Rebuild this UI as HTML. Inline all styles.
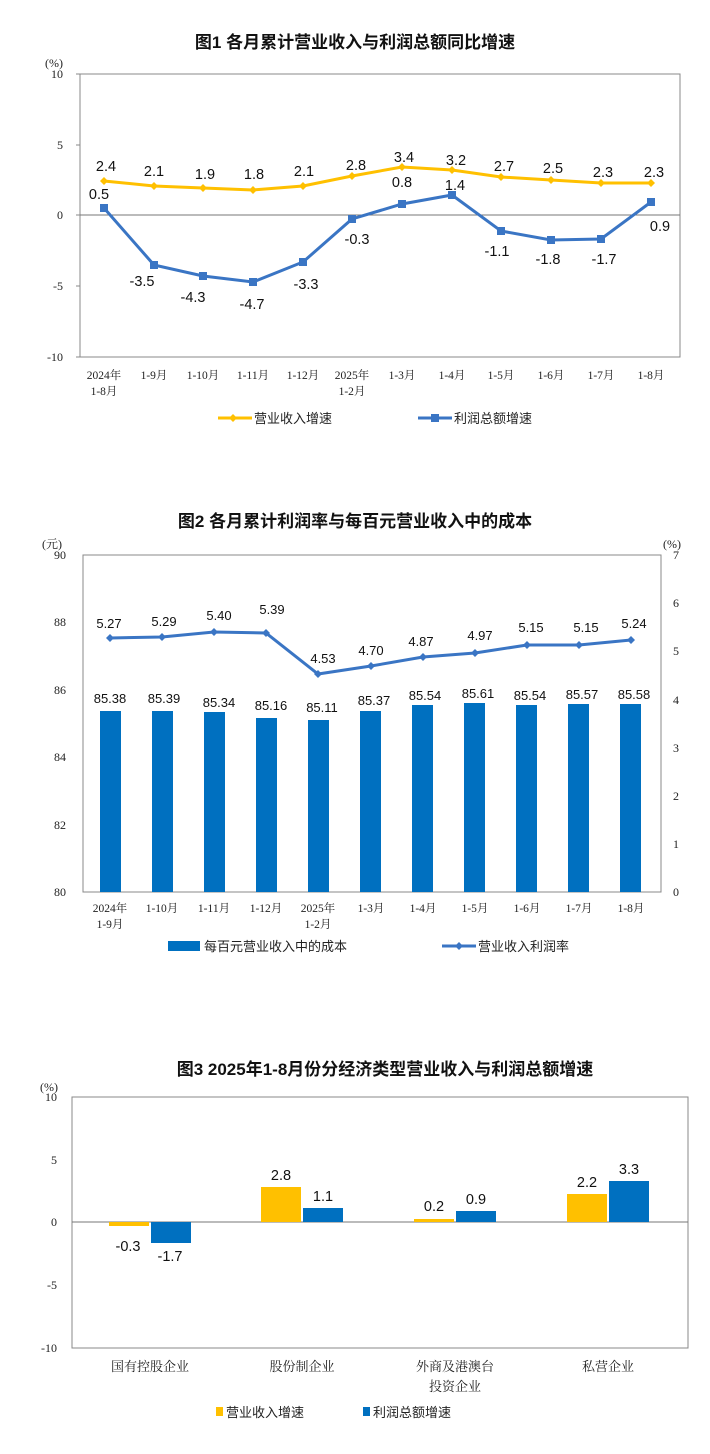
<!DOCTYPE html>
<html><head><meta charset="utf-8"><style>
html,body{margin:0;padding:0;background:#fff;}
svg{display:block;font-family:"Liberation Sans","Noto Sans CJK SC",sans-serif;}
.t{font-size:17px;font-weight:bold;fill:#111;}
.ax{font-size:12px;fill:#222;font-family:"Liberation Serif","Noto Serif CJK SC",serif;}
.cx{font-size:11.5px;fill:#222;font-family:"Liberation Serif","Noto Serif CJK SC",serif;}
.v{font-size:14.5px;fill:#111;}
.v2{font-size:13px;fill:#111;}
.lg{font-size:13px;fill:#222;}
</style></head><body>
<svg width="710" height="1454" viewBox="0 0 710 1454">
<!-- Chart 1 -->
<text class="t" x="355" y="48" text-anchor="middle">图1  各月累计营业收入与利润总额同比增速</text>
<text class="ax" x="45" y="67">(%)</text>
<rect x="80" y="74" width="600" height="283" fill="none" stroke="#888" stroke-width="1"/>
<line x1="80" y1="215" x2="680" y2="215" stroke="#777" stroke-width="1"/>
<g class="ax" text-anchor="end">
<text x="63" y="78">10</text><text x="63" y="149">5</text><text x="63" y="219">0</text><text x="63" y="290">-5</text><text x="63" y="361">-10</text>
</g>
<g stroke="#888"><line x1="76" y1="74" x2="80" y2="74"/><line x1="76" y1="145" x2="80" y2="145"/><line x1="76" y1="215" x2="80" y2="215"/><line x1="76" y1="286" x2="80" y2="286"/><line x1="76" y1="357" x2="80" y2="357"/></g>
<polyline fill="none" stroke="#FFC000" stroke-width="3" points="104,181 154,186 203,188 253,190 303,186 352,176 402,167 452,170 501,177 551,180 601,183 651,183"/>
<g fill="#FFC000">
<path d="M104,177l4,4l-4,4l-4,-4z"/><path d="M154,182l4,4l-4,4l-4,-4z"/><path d="M203,184l4,4l-4,4l-4,-4z"/><path d="M253,186l4,4l-4,4l-4,-4z"/><path d="M303,182l4,4l-4,4l-4,-4z"/><path d="M352,172l4,4l-4,4l-4,-4z"/><path d="M402,163l4,4l-4,4l-4,-4z"/><path d="M452,166l4,4l-4,4l-4,-4z"/><path d="M501,173l4,4l-4,4l-4,-4z"/><path d="M551,176l4,4l-4,4l-4,-4z"/><path d="M601,179l4,4l-4,4l-4,-4z"/><path d="M651,179l4,4l-4,4l-4,-4z"/>
</g>
<polyline fill="none" stroke="#3A75C4" stroke-width="3" points="104,208 154,265 203,276 253,282 303,262 352,219 402,204 452,195 501,231 551,240 601,239 651,202"/>
<g fill="#3A75C4">
<rect x="100" y="204" width="8" height="8"/><rect x="150" y="261" width="8" height="8"/><rect x="199" y="272" width="8" height="8"/><rect x="249" y="278" width="8" height="8"/><rect x="299" y="258" width="8" height="8"/><rect x="348" y="215" width="8" height="8"/><rect x="398" y="200" width="8" height="8"/><rect x="448" y="191" width="8" height="8"/><rect x="497" y="227" width="8" height="8"/><rect x="547" y="236" width="8" height="8"/><rect x="597" y="235" width="8" height="8"/><rect x="647" y="198" width="8" height="8"/>
</g>
<g class="v" text-anchor="middle">
<text x="106" y="171">2.4</text><text x="154" y="176">2.1</text><text x="205" y="179">1.9</text><text x="254" y="179">1.8</text><text x="304" y="176">2.1</text><text x="356" y="170">2.8</text><text x="404" y="162">3.4</text><text x="456" y="165">3.2</text><text x="504" y="171">2.7</text><text x="553" y="173">2.5</text><text x="603" y="177">2.3</text><text x="654" y="177">2.3</text>
<text x="99" y="199">0.5</text><text x="142" y="286">-3.5</text><text x="193" y="302">-4.3</text><text x="252" y="309">-4.7</text><text x="306" y="289">-3.3</text><text x="357" y="244">-0.3</text><text x="402" y="187">0.8</text><text x="455" y="190">1.4</text><text x="497" y="256">-1.1</text><text x="548" y="264">-1.8</text><text x="604" y="264">-1.7</text><text x="660" y="231">0.9</text>
</g>
<g class="cx" text-anchor="middle">
<text x="104" y="379">2024年</text><text x="104" y="395">1-8月</text><text x="154" y="379">1-9月</text><text x="203" y="379">1-10月</text><text x="253" y="379">1-11月</text><text x="303" y="379">1-12月</text><text x="352" y="379">2025年</text><text x="352" y="395">1-2月</text><text x="402" y="379">1-3月</text><text x="452" y="379">1-4月</text><text x="501" y="379">1-5月</text><text x="551" y="379">1-6月</text><text x="601" y="379">1-7月</text><text x="651" y="379">1-8月</text>
</g>
<line x1="218" y1="418" x2="252" y2="418" stroke="#FFC000" stroke-width="3"/><path d="M233,414l4,4l-4,4l-4,-4z" fill="#FFC000"/>
<text class="lg" x="254" y="423">营业收入增速</text>
<line x1="418" y1="418" x2="452" y2="418" stroke="#3A75C4" stroke-width="3"/><rect x="431" y="414" width="8" height="8" fill="#3A75C4"/>
<text class="lg" x="454" y="423">利润总额增速</text>

<!-- Chart 2 -->
<text class="t" x="355" y="527" text-anchor="middle">图2  各月累计利润率与每百元营业收入中的成本</text>
<text class="ax" x="42" y="548">(元)</text>
<text class="ax" x="663" y="548">(%)</text>
<rect x="83" y="555" width="578" height="337" fill="none" stroke="#888"/>
<g class="ax" text-anchor="end">
<text x="66" y="559">90</text><text x="66" y="626">88</text><text x="66" y="694">86</text><text x="66" y="761">84</text><text x="66" y="829">82</text><text x="66" y="896">80</text>
</g>
<g class="ax">
<text x="673" y="559">7</text><text x="673" y="607">6</text><text x="673" y="655">5</text><text x="673" y="704">4</text><text x="673" y="752">3</text><text x="673" y="800">2</text><text x="673" y="848">1</text><text x="673" y="896">0</text>
</g>
<g fill="#0070C0">
<rect x="100" y="711" width="21" height="181"/><rect x="152" y="711" width="21" height="181"/><rect x="204" y="712" width="21" height="180"/><rect x="256" y="718" width="21" height="174"/><rect x="308" y="720" width="21" height="172"/><rect x="360" y="711" width="21" height="181"/><rect x="412" y="705" width="21" height="187"/><rect x="464" y="703" width="21" height="189"/><rect x="516" y="705" width="21" height="187"/><rect x="568" y="704" width="21" height="188"/><rect x="620" y="704" width="21" height="188"/>
</g>
<g class="v2" text-anchor="middle">
<text x="110" y="703">85.38</text><text x="164" y="703">85.39</text><text x="219" y="707">85.34</text><text x="271" y="710">85.16</text><text x="322" y="712">85.11</text><text x="374" y="705">85.37</text><text x="425" y="700">85.54</text><text x="478" y="698">85.61</text><text x="530" y="700">85.54</text><text x="582" y="699">85.57</text><text x="634" y="699">85.58</text>
</g>
<polyline fill="none" stroke="#3A75C4" stroke-width="3" points="110,638 162,637 214,632 266,633 318,674 371,666 423,657 475,653 527,645 579,645 631,640"/>
<g fill="#3A75C4">
<path d="M110,634l4,4l-4,4l-4,-4z"/><path d="M162,633l4,4l-4,4l-4,-4z"/><path d="M214,628l4,4l-4,4l-4,-4z"/><path d="M266,629l4,4l-4,4l-4,-4z"/><path d="M318,670l4,4l-4,4l-4,-4z"/><path d="M371,662l4,4l-4,4l-4,-4z"/><path d="M423,653l4,4l-4,4l-4,-4z"/><path d="M475,649l4,4l-4,4l-4,-4z"/><path d="M527,641l4,4l-4,4l-4,-4z"/><path d="M579,641l4,4l-4,4l-4,-4z"/><path d="M631,636l4,4l-4,4l-4,-4z"/>
</g>
<g class="v2" text-anchor="middle">
<text x="109" y="628">5.27</text><text x="164" y="626">5.29</text><text x="219" y="620">5.40</text><text x="272" y="614">5.39</text><text x="323" y="663">4.53</text><text x="371" y="655">4.70</text><text x="421" y="646">4.87</text><text x="480" y="640">4.97</text><text x="531" y="632">5.15</text><text x="586" y="632">5.15</text><text x="634" y="628">5.24</text>
</g>
<g class="cx" text-anchor="middle">
<text x="110" y="912">2024年</text><text x="110" y="928">1-9月</text><text x="162" y="912">1-10月</text><text x="214" y="912">1-11月</text><text x="266" y="912">1-12月</text><text x="318" y="912">2025年</text><text x="318" y="928">1-2月</text><text x="371" y="912">1-3月</text><text x="423" y="912">1-4月</text><text x="475" y="912">1-5月</text><text x="527" y="912">1-6月</text><text x="579" y="912">1-7月</text><text x="631" y="912">1-8月</text>
</g>
<rect x="168" y="941" width="32" height="10" fill="#0070C0"/>
<text class="lg" x="204" y="951">每百元营业收入中的成本</text>
<line x1="442" y1="946" x2="476" y2="946" stroke="#3A75C4" stroke-width="3"/><path d="M459,942l4,4l-4,4l-4,-4z" fill="#3A75C4"/>
<text class="lg" x="478" y="951">营业收入利润率</text>

<!-- Chart 3 -->
<text class="t" x="385" y="1075" text-anchor="middle">图3  2025年1-8月份分经济类型营业收入与利润总额增速</text>
<text class="ax" x="40" y="1091">(%)</text>
<rect x="72" y="1097" width="616" height="251" fill="none" stroke="#888"/>
<line x1="72" y1="1222" x2="688" y2="1222" stroke="#777"/>
<g class="ax" text-anchor="end">
<text x="57" y="1101">10</text><text x="57" y="1164">5</text><text x="57" y="1226">0</text><text x="57" y="1289">-5</text><text x="57" y="1352">-10</text>
</g>
<g fill="#FFC000">
<rect x="109" y="1222" width="40" height="4"/><rect x="261" y="1187" width="40" height="35"/><rect x="414" y="1219" width="40" height="3"/><rect x="567" y="1194" width="40" height="28"/>
</g>
<g fill="#0070C0">
<rect x="151" y="1222" width="40" height="21"/><rect x="303" y="1208" width="40" height="14"/><rect x="456" y="1211" width="40" height="11"/><rect x="609" y="1181" width="40" height="41"/>
</g>
<g class="v" text-anchor="middle">
<text x="128" y="1251">-0.3</text><text x="170" y="1261">-1.7</text><text x="281" y="1180">2.8</text><text x="323" y="1201">1.1</text><text x="434" y="1211">0.2</text><text x="476" y="1204">0.9</text><text x="587" y="1187">2.2</text><text x="629" y="1174">3.3</text>
</g>
<g class="cx" text-anchor="middle" style="font-size:13px">
<text x="150" y="1371">国有控股企业</text><text x="302" y="1371">股份制企业</text><text x="455" y="1371">外商及港澳台</text><text x="455" y="1391">投资企业</text><text x="608" y="1371">私营企业</text>
</g>
<rect x="216" y="1407" width="7" height="9" fill="#FFC000"/>
<text class="lg" x="226" y="1417">营业收入增速</text>
<rect x="363" y="1407" width="7" height="9" fill="#0070C0"/>
<text class="lg" x="373" y="1417">利润总额增速</text>
</svg>
</body></html>
